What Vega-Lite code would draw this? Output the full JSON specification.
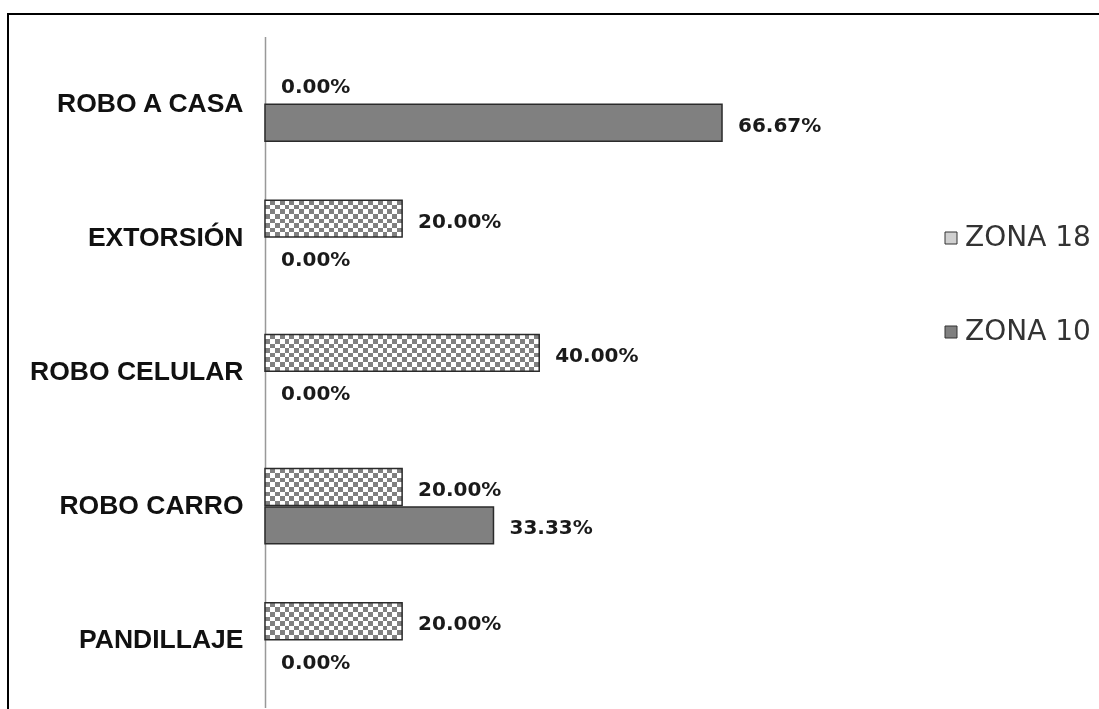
{
  "$schema": "https://vega.github.io/schema/vega-lite/v6.json",
  "width": 1110,
  "height": 700,
  "autosize": {"type": "none"},
  "padding": {"left": 8, "top": 14, "right": 0, "bottom": 0},
  "background": "white",
  "config": {
    "view": {"stroke": "#000000", "strokeWidth": 2},
    "legend": {"padding": 0}
  },
  "data": {
    "values": [
      {"cat": "ROBO A CASA", "zone": "ZONA 18", "value": 0},
      {"cat": "ROBO A CASA", "zone": "ZONA 10", "value": 0.6667},
      {"cat": "EXTORSIÓN", "zone": "ZONA 18", "value": 0.2},
      {"cat": "EXTORSIÓN", "zone": "ZONA 10", "value": 0},
      {"cat": "ROBO CELULAR", "zone": "ZONA 18", "value": 0.4},
      {"cat": "ROBO CELULAR", "zone": "ZONA 10", "value": 0},
      {"cat": "ROBO CARRO", "zone": "ZONA 18", "value": 0.2},
      {"cat": "ROBO CARRO", "zone": "ZONA 10", "value": 0.3333},
      {"cat": "PANDILLAJE", "zone": "ZONA 18", "value": 0.2},
      {"cat": "PANDILLAJE", "zone": "ZONA 10", "value": 0}
    ]
  },
  "encoding": {
    "y": {
      "field": "cat",
      "type": "nominal",
      "scale": {
        "domain": ["ROBO A CASA", "EXTORSIÓN", "ROBO CELULAR", "ROBO CARRO", "PANDILLAJE"],
        "range": [22.5, 693.5],
        "paddingInner": 0.44,
        "paddingOuter": 0.22
      },
      "axis": {
        "orient": "left",
        "offset": -257,
        "title": null,
        "ticks": false,
        "domainColor": "#999999",
        "domainWidth": 1.5,
        "labelFont": "Liberation Sans",
        "labelFontWeight": "bold",
        "labelFontSize": 26.5,
        "labelColor": "#111111",
        "labelPadding": 22,
        "labelLimit": 0
      }
    },
    "yOffset": {
      "field": "zone",
      "type": "nominal",
      "scale": {"domain": ["ZONA 18", "ZONA 10"], "paddingInner": 0.04}
    },
    "x": {
      "field": "value",
      "type": "quantitative",
      "scale": {"domain": [0, 1], "range": [257, 942.5], "nice": false, "zero": true},
      "axis": null
    }
  },
  "layer": [
    {
      "mark": {"type": "bar", "strokeWidth": 0},
      "encoding": {
        "fill": {
          "field": "zone",
          "type": "nominal",
          "scale": {"domain": ["ZONA 18", "ZONA 10"], "range": ["#d0d0d0", "#808080"]},
          "legend": {
            "orient": "none",
            "legendX": 929,
            "legendY": 210,
            "title": null,
            "symbolType": "square",
            "symbolSize": 144,
            "symbolStrokeColor": "#333333",
            "symbolStrokeWidth": 1,
            "labelFont": "DejaVu Sans",
            "labelFontSize": 28,
            "labelColor": "#333333",
            "labelOffset": 0,
            "rowPadding": 66
          }
        }
      }
    },
    {
      "transform": [{"filter": "datum.zone == 'ZONA 18' && datum.value > 0"}],
      "mark": {
        "type": "bar",
        "strokeWidth": 0,
        "fill": {
          "gradient": "linear", "x1": 0, "y1": 0, "x2": 0, "y2": 1,
          "stops": [
            {"offset": 0, "color": "#000000"}, {"offset": 0.125, "color": "#000000"},
            {"offset": 0.125, "color": "#7f7f7f"}, {"offset": 0.25, "color": "#7f7f7f"},
            {"offset": 0.25, "color": "#000000"}, {"offset": 0.375, "color": "#000000"},
            {"offset": 0.375, "color": "#7f7f7f"}, {"offset": 0.5, "color": "#7f7f7f"},
            {"offset": 0.5, "color": "#000000"}, {"offset": 0.625, "color": "#000000"},
            {"offset": 0.625, "color": "#7f7f7f"}, {"offset": 0.75, "color": "#7f7f7f"},
            {"offset": 0.75, "color": "#000000"}, {"offset": 0.875, "color": "#000000"},
            {"offset": 0.875, "color": "#7f7f7f"}, {"offset": 1, "color": "#7f7f7f"}
          ]
        }
      }
    },
    {
      "transform": [{"filter": "datum.zone == 'ZONA 18' && datum.value > 0"}],
      "mark": {"type": "bar", "strokeWidth": 0, "blend": "difference"},
      "encoding": {
        "fill": {
          "condition": {
            "test": "datum.value > 0.3",
            "value": {
              "gradient": "linear", "x1": 0, "y1": 0, "x2": 1, "y2": 0,
              "stops": [
                {"offset": 0, "color": "#000000"}, {"offset": 0.0179, "color": "#000000"},
                {"offset": 0.0179, "color": "#7f7f7f"}, {"offset": 0.0357, "color": "#7f7f7f"},
                {"offset": 0.0357, "color": "#000000"}, {"offset": 0.0536, "color": "#000000"},
                {"offset": 0.0536, "color": "#7f7f7f"}, {"offset": 0.0714, "color": "#7f7f7f"},
                {"offset": 0.0714, "color": "#000000"}, {"offset": 0.0893, "color": "#000000"},
                {"offset": 0.0893, "color": "#7f7f7f"}, {"offset": 0.1071, "color": "#7f7f7f"},
                {"offset": 0.1071, "color": "#000000"}, {"offset": 0.125, "color": "#000000"},
                {"offset": 0.125, "color": "#7f7f7f"}, {"offset": 0.1429, "color": "#7f7f7f"},
                {"offset": 0.1429, "color": "#000000"}, {"offset": 0.1607, "color": "#000000"},
                {"offset": 0.1607, "color": "#7f7f7f"}, {"offset": 0.1786, "color": "#7f7f7f"},
                {"offset": 0.1786, "color": "#000000"}, {"offset": 0.1964, "color": "#000000"},
                {"offset": 0.1964, "color": "#7f7f7f"}, {"offset": 0.2143, "color": "#7f7f7f"},
                {"offset": 0.2143, "color": "#000000"}, {"offset": 0.2321, "color": "#000000"},
                {"offset": 0.2321, "color": "#7f7f7f"}, {"offset": 0.25, "color": "#7f7f7f"},
                {"offset": 0.25, "color": "#000000"}, {"offset": 0.2679, "color": "#000000"},
                {"offset": 0.2679, "color": "#7f7f7f"}, {"offset": 0.2857, "color": "#7f7f7f"},
                {"offset": 0.2857, "color": "#000000"}, {"offset": 0.3036, "color": "#000000"},
                {"offset": 0.3036, "color": "#7f7f7f"}, {"offset": 0.3214, "color": "#7f7f7f"},
                {"offset": 0.3214, "color": "#000000"}, {"offset": 0.3393, "color": "#000000"},
                {"offset": 0.3393, "color": "#7f7f7f"}, {"offset": 0.3571, "color": "#7f7f7f"},
                {"offset": 0.3571, "color": "#000000"}, {"offset": 0.375, "color": "#000000"},
                {"offset": 0.375, "color": "#7f7f7f"}, {"offset": 0.3929, "color": "#7f7f7f"},
                {"offset": 0.3929, "color": "#000000"}, {"offset": 0.4107, "color": "#000000"},
                {"offset": 0.4107, "color": "#7f7f7f"}, {"offset": 0.4286, "color": "#7f7f7f"},
                {"offset": 0.4286, "color": "#000000"}, {"offset": 0.4464, "color": "#000000"},
                {"offset": 0.4464, "color": "#7f7f7f"}, {"offset": 0.4643, "color": "#7f7f7f"},
                {"offset": 0.4643, "color": "#000000"}, {"offset": 0.4821, "color": "#000000"},
                {"offset": 0.4821, "color": "#7f7f7f"}, {"offset": 0.5, "color": "#7f7f7f"},
                {"offset": 0.5, "color": "#000000"}, {"offset": 0.5179, "color": "#000000"},
                {"offset": 0.5179, "color": "#7f7f7f"}, {"offset": 0.5357, "color": "#7f7f7f"},
                {"offset": 0.5357, "color": "#000000"}, {"offset": 0.5536, "color": "#000000"},
                {"offset": 0.5536, "color": "#7f7f7f"}, {"offset": 0.5714, "color": "#7f7f7f"},
                {"offset": 0.5714, "color": "#000000"}, {"offset": 0.5893, "color": "#000000"},
                {"offset": 0.5893, "color": "#7f7f7f"}, {"offset": 0.6071, "color": "#7f7f7f"},
                {"offset": 0.6071, "color": "#000000"}, {"offset": 0.625, "color": "#000000"},
                {"offset": 0.625, "color": "#7f7f7f"}, {"offset": 0.6429, "color": "#7f7f7f"},
                {"offset": 0.6429, "color": "#000000"}, {"offset": 0.6607, "color": "#000000"},
                {"offset": 0.6607, "color": "#7f7f7f"}, {"offset": 0.6786, "color": "#7f7f7f"},
                {"offset": 0.6786, "color": "#000000"}, {"offset": 0.6964, "color": "#000000"},
                {"offset": 0.6964, "color": "#7f7f7f"}, {"offset": 0.7143, "color": "#7f7f7f"},
                {"offset": 0.7143, "color": "#000000"}, {"offset": 0.7321, "color": "#000000"},
                {"offset": 0.7321, "color": "#7f7f7f"}, {"offset": 0.75, "color": "#7f7f7f"},
                {"offset": 0.75, "color": "#000000"}, {"offset": 0.7679, "color": "#000000"},
                {"offset": 0.7679, "color": "#7f7f7f"}, {"offset": 0.7857, "color": "#7f7f7f"},
                {"offset": 0.7857, "color": "#000000"}, {"offset": 0.8036, "color": "#000000"},
                {"offset": 0.8036, "color": "#7f7f7f"}, {"offset": 0.8214, "color": "#7f7f7f"},
                {"offset": 0.8214, "color": "#000000"}, {"offset": 0.8393, "color": "#000000"},
                {"offset": 0.8393, "color": "#7f7f7f"}, {"offset": 0.8571, "color": "#7f7f7f"},
                {"offset": 0.8571, "color": "#000000"}, {"offset": 0.875, "color": "#000000"},
                {"offset": 0.875, "color": "#7f7f7f"}, {"offset": 0.8929, "color": "#7f7f7f"},
                {"offset": 0.8929, "color": "#000000"}, {"offset": 0.9107, "color": "#000000"},
                {"offset": 0.9107, "color": "#7f7f7f"}, {"offset": 0.9286, "color": "#7f7f7f"},
                {"offset": 0.9286, "color": "#000000"}, {"offset": 0.9464, "color": "#000000"},
                {"offset": 0.9464, "color": "#7f7f7f"}, {"offset": 0.9643, "color": "#7f7f7f"},
                {"offset": 0.9643, "color": "#000000"}, {"offset": 0.9821, "color": "#000000"},
                {"offset": 0.9821, "color": "#7f7f7f"}, {"offset": 1, "color": "#7f7f7f"}
              ]
            }
          },
          "value": {
            "gradient": "linear", "x1": 0, "y1": 0, "x2": 1, "y2": 0,
            "stops": [
              {"offset": 0, "color": "#000000"}, {"offset": 0.0357, "color": "#000000"},
              {"offset": 0.0357, "color": "#7f7f7f"}, {"offset": 0.0714, "color": "#7f7f7f"},
              {"offset": 0.0714, "color": "#000000"}, {"offset": 0.1071, "color": "#000000"},
              {"offset": 0.1071, "color": "#7f7f7f"}, {"offset": 0.1429, "color": "#7f7f7f"},
              {"offset": 0.1429, "color": "#000000"}, {"offset": 0.1786, "color": "#000000"},
              {"offset": 0.1786, "color": "#7f7f7f"}, {"offset": 0.2143, "color": "#7f7f7f"},
              {"offset": 0.2143, "color": "#000000"}, {"offset": 0.25, "color": "#000000"},
              {"offset": 0.25, "color": "#7f7f7f"}, {"offset": 0.2857, "color": "#7f7f7f"},
              {"offset": 0.2857, "color": "#000000"}, {"offset": 0.3214, "color": "#000000"},
              {"offset": 0.3214, "color": "#7f7f7f"}, {"offset": 0.3571, "color": "#7f7f7f"},
              {"offset": 0.3571, "color": "#000000"}, {"offset": 0.3929, "color": "#000000"},
              {"offset": 0.3929, "color": "#7f7f7f"}, {"offset": 0.4286, "color": "#7f7f7f"},
              {"offset": 0.4286, "color": "#000000"}, {"offset": 0.4643, "color": "#000000"},
              {"offset": 0.4643, "color": "#7f7f7f"}, {"offset": 0.5, "color": "#7f7f7f"},
              {"offset": 0.5, "color": "#000000"}, {"offset": 0.5357, "color": "#000000"},
              {"offset": 0.5357, "color": "#7f7f7f"}, {"offset": 0.5714, "color": "#7f7f7f"},
              {"offset": 0.5714, "color": "#000000"}, {"offset": 0.6071, "color": "#000000"},
              {"offset": 0.6071, "color": "#7f7f7f"}, {"offset": 0.6429, "color": "#7f7f7f"},
              {"offset": 0.6429, "color": "#000000"}, {"offset": 0.6786, "color": "#000000"},
              {"offset": 0.6786, "color": "#7f7f7f"}, {"offset": 0.7143, "color": "#7f7f7f"},
              {"offset": 0.7143, "color": "#000000"}, {"offset": 0.75, "color": "#000000"},
              {"offset": 0.75, "color": "#7f7f7f"}, {"offset": 0.7857, "color": "#7f7f7f"},
              {"offset": 0.7857, "color": "#000000"}, {"offset": 0.8214, "color": "#000000"},
              {"offset": 0.8214, "color": "#7f7f7f"}, {"offset": 0.8571, "color": "#7f7f7f"},
              {"offset": 0.8571, "color": "#000000"}, {"offset": 0.8929, "color": "#000000"},
              {"offset": 0.8929, "color": "#7f7f7f"}, {"offset": 0.9286, "color": "#7f7f7f"},
              {"offset": 0.9286, "color": "#000000"}, {"offset": 0.9643, "color": "#000000"},
              {"offset": 0.9643, "color": "#7f7f7f"}, {"offset": 1, "color": "#7f7f7f"}
            ]
          }
        }
      }
    },
    {
      "transform": [{"filter": "datum.zone == 'ZONA 18' && datum.value > 0"}],
      "mark": {"type": "bar", "strokeWidth": 0, "fill": "#ffffff", "blend": "difference"}
    },
    {
      "transform": [{"filter": "datum.value > 0"}],
      "mark": {"type": "bar", "fill": "transparent", "stroke": "#2b2b2b", "strokeWidth": 1.5}
    },
    {
      "mark": {
        "type": "text",
        "align": "left",
        "baseline": "middle",
        "dx": 16,
        "dy": 3,
        "font": "DejaVu Sans",
        "fontWeight": "bold",
        "fontSize": 20,
        "color": "#1a1a1a"
      },
      "encoding": {
        "text": {"field": "value", "type": "quantitative", "format": ".2%"}
      }
    }
  ]
}
